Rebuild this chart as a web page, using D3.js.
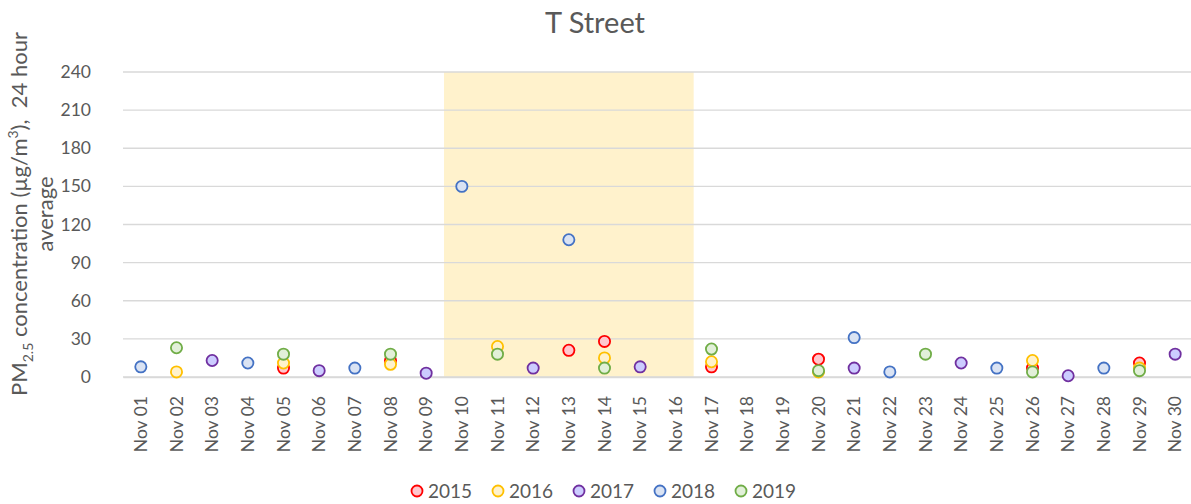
<!DOCTYPE html>
<html>
<head>
<meta charset="utf-8">
<script src="https://cdn.jsdelivr.net/npm/d3@7"></script>
<style>
    body { margin: 0; background: #fff; }
    text { font-family: Lato, "Open Sans", sans-serif; fill: #595959; }
</style>
</head>
<body>
<svg id="chart" width="1191" height="504"></svg>
<script>
// data, null = no reading that day
var days = ["Nov 01","Nov 02","Nov 03","Nov 04","Nov 05","Nov 06","Nov 07","Nov 08","Nov 09","Nov 10",
            "Nov 11","Nov 12","Nov 13","Nov 14","Nov 15","Nov 16","Nov 17","Nov 18","Nov 19","Nov 20",
            "Nov 21","Nov 22","Nov 23","Nov 24","Nov 25","Nov 26","Nov 27","Nov 28","Nov 29","Nov 30"];
var years = ["2015","2016","2017","2018","2019"];
var y2015 = [null,null,null,null,7,null,null,13,null,null, null,null,21,28,null,null,8,null,null,14, null,null,null,null,null,7,null,null,11,null];
var y2016 = [null,4,null,null,11,null,null,10,null,null, 24,null,null,15,null,null,12,null,null,4, null,null,null,null,null,13,null,null,7,null];
var y2017 = [null,null,13,null,null,5,null,null,3,null, null,7,null,null,8,null,null,null,null,null, 7,null,null,11,null,null,1,null,null,18];
var y2018 = [8,null,null,11,null,null,7,null,null,150, null,null,108,null,null,null,null,null,null,null, 31,4,null,null,7,null,null,7,null,null];
var y2019 = [null,23,null,null,18,null,null,18,null,null, 18,null,null,7,null,null,22,null,null,5, null,null,18,null,null,4,null,null,5,null];
var yTicks = [0, 30, 60, 90, 120, 150, 180, 210, 240];
var shadedDays = ["Nov 10", "Nov 16"];

var strokes = ["#ff0000", "#ffc000", "#7030a0", "#4472c4", "#70ad47"];
var fills = ["#ffc7ce", "#fff2cc", "#ccccff", "#dae3f3", "#e2f0d9"];

var seriesValues = [y2015, y2016, y2017, y2018, y2019];

var svg = d3.select("#chart");
var margin = {left: 123, right: 0, top: 72, bottom: 127};
var width = 1191, height = 504;

var x = d3.scaleBand().domain(days).range([margin.left, 1193]);
var y = d3.scaleLinear().domain([0, 240]).range([height - margin.bottom, margin.top]);

// highlighted period
svg.append("rect")
    .attr("x", x(shadedDays[0]))
    .attr("y", y(240))
    .attr("width", x(shadedDays[1]) + x.bandwidth() - x(shadedDays[0]))
    .attr("height", y(0) - y(240))
    .style("fill", "#fff2cc");

// gridlines
svg.append("g")
    .selectAll("line")
    .data(yTicks)
    .enter().append("line")
    .attr("x1", margin.left).attr("x2", width)
    .attr("y1", function(d) { return y(d); })
    .attr("y2", function(d) { return y(d); })
    .style("stroke", "#d9d9d9")
    .style("stroke-width", 1.3);

var yAxis = svg.append("g")
    .attr("transform", "translate(" + margin.left + ",0)")
    .call(d3.axisLeft(y).tickValues(yTicks).tickSize(0).tickPadding(32));
yAxis.select(".domain").remove();
yAxis.selectAll("text").style("font-size", "17.5px").style("fill", "#595959");

var xAxis = svg.append("g")
    .attr("transform", "translate(0," + y(0) + ")")
    .call(d3.axisBottom(x).tickSize(0));
xAxis.select(".domain").style("stroke", "#d9d9d9").style("stroke-width", 1.3);
xAxis.selectAll("text")
    .style("font-size", "17.5px")
    .style("fill", "#595959")
    .style("text-anchor", "end")
    .attr("transform", "rotate(-90)")
    .attr("x", -19)
    .attr("y", 0)
    .attr("dy", "0.35em");

// markers
seriesValues.forEach(function(vals, i) {
    var pts = days.map(function(d, j) { return {day: d, value: vals[j]}; })
        .filter(function(p) { return p.value !== null; });
    svg.append("g")
        .selectAll("circle")
        .data(pts)
        .enter().append("circle")
        .attr("cx", function(p) { return x(p.day) + x.bandwidth() / 2; })
        .attr("cy", function(p) { return y(p.value); })
        .attr("r", 5.6)
        .style("fill", fills[i])
        .style("stroke", strokes[i])
        .style("stroke-width", 1.8);
});

// title
svg.append("text")
    .attr("x", 595).attr("y", 33)
    .attr("text-anchor", "middle")
    .style("font-size", "29px")
    .text("T Street");

// y axis title, two lines
var yt = svg.append("text")
    .attr("transform", "translate(27,214) rotate(-90)")
    .attr("text-anchor", "middle")
    .style("font-size", "22px");
var l1 = yt.append("tspan").attr("x", 0).attr("y", 0);
l1.append("tspan").text("PM");
l1.append("tspan").attr("dy", 6).style("font-size", "14px").text("2.5");
l1.append("tspan").attr("dy", -6).text(" concentration (µg/m");
l1.append("tspan").attr("dy", -9).style("font-size", "14px").text("3");
l1.append("tspan").attr("dy", 9).text("),\u00a0 24 hour");
yt.append("tspan").attr("x", 0).attr("y", 26).text("average");

// legend
var legend = svg.append("g").attr("transform", "translate(411,491)");
years.forEach(function(yr, i) {
    var g = legend.append("g").attr("transform", "translate(" + (i * 81) + ",0)");
    g.append("circle")
        .attr("cx", 6).attr("cy", 0).attr("r", 5.5)
        .style("fill", fills[i])
        .style("stroke", strokes[i])
        .style("stroke-width", 1.8);
    g.append("text")
        .attr("x", 17).attr("y", 0).attr("dy", "0.35em")
        .style("font-size", "19px")
        .text(yr);
});
</script>
</body>
</html>
